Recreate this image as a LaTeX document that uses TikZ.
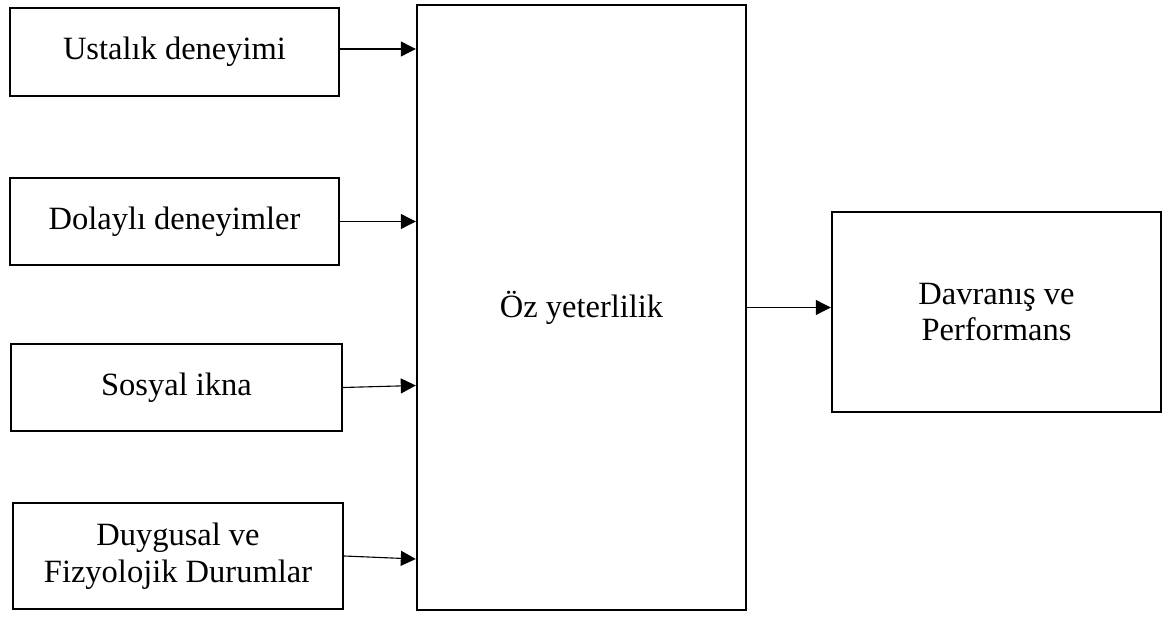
\documentclass[tikz,border=0pt]{standalone}
\usepackage{fontspec}
\setmainfont{Liberation Serif}
\usetikzlibrary{arrows.meta}
\tikzset{
  box/.style={draw=black, line width=2.4pt, inner sep=0pt, align=center,
    font=\fontsize{32.5}{36.7}\selectfont},
  arr/.style={draw=black, line width=1.1pt, -{Triangle[length=15pt,width=15pt]}}
}
\begin{document}
\begin{tikzpicture}[x=1pt,y=-1pt]
\useasboundingbox (0,0) rectangle (1173,617);
\node[box, minimum width=329pt, minimum height=88pt] (b1) at (174.5,52) {Ustalık deneyimi};
\node[box, minimum width=329pt, minimum height=87pt] (b2) at (174.5,221.5) {Dolaylı deneyimler};
\node[box, minimum width=331pt, minimum height=87pt] (b3) at (176.5,387.5) {Sosyal ikna};
\node[box, minimum width=330pt, minimum height=106pt] (b4) at (178,556) {Duygusal ve\\Fizyolojik Durumlar};
\node[box, minimum width=329pt, minimum height=605pt] (oz) at (581.5,307.5) {Öz yeterlilik};
\node[box, minimum width=329pt, minimum height=200pt] (da) at (996.5,312) {Davranış ve\\Performans};
\draw[arr] ([yshift=3pt]b1.east) -- ([yshift=3pt]b1.east -| oz.west);
\draw[arr] (b2.east) -- (b2.east -| oz.west);
\draw[arr] (b3.east) -- ([yshift=2pt]b3.east -| oz.west);
\draw[arr] (b4.east) -- ([yshift=-3pt]b4.east -| oz.west);
\draw[arr] (oz.east) -- (oz.east -| da.west);
\end{tikzpicture}
\end{document}
